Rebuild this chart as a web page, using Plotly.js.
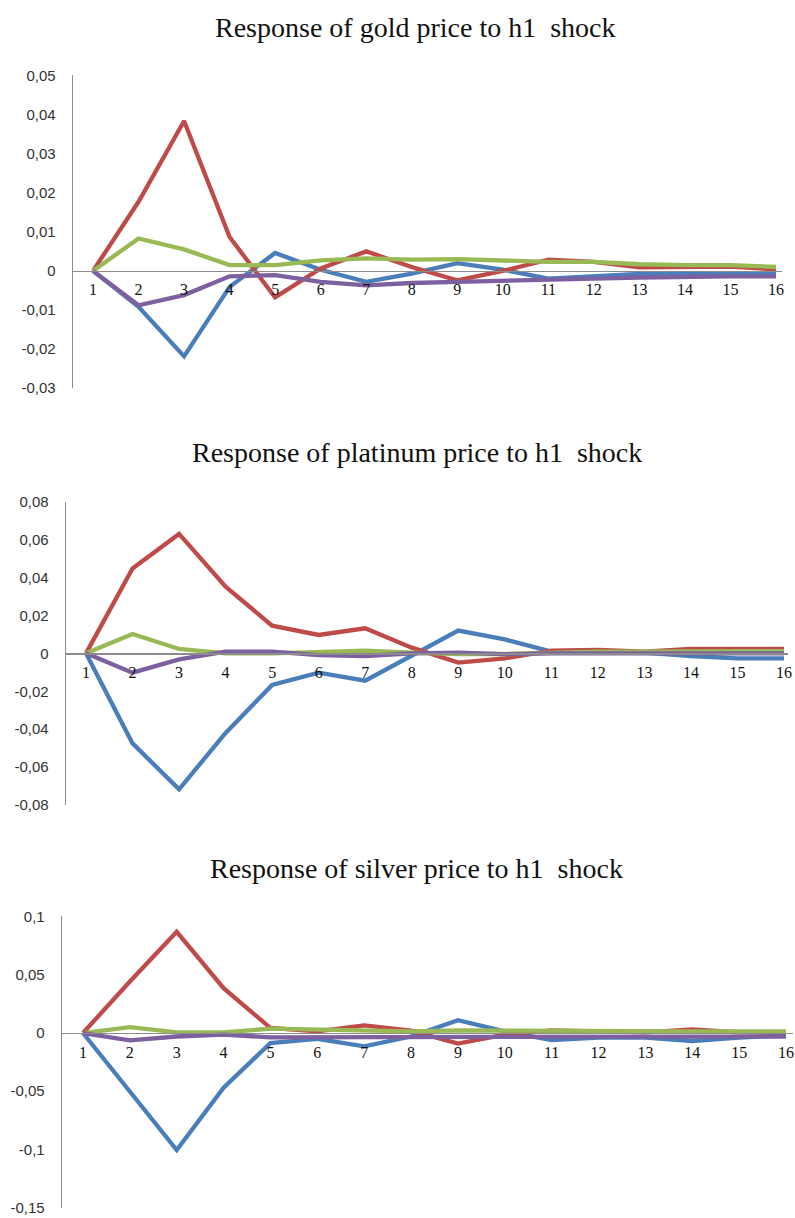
<!DOCTYPE html>
<html><head><meta charset="utf-8">
<script src="https://cdn.plot.ly/plotly-3.0.1.min.js"></script>
<style>html,body{margin:0;padding:0;background:#fff}#chart{width:795px;height:1218px}</style>
</head><body><div id="chart"></div>
<script>
const periods = [1,2,3,4,5,6,7,8,9,10,11,12,13,14,15,16];
const periodLabels = ['1','2','3','4','5','6','7','8','9','10','11','12','13','14','15','16'];

const titles = ['Response of gold price to h1  shock','Response of platinum price to h1  shock','Response of silver price to h1  shock'];

// gold
const goldBlue   = [0,-0.0092,-0.0219,-0.0041,0.0046,0.0003,-0.0028,-0.0007,0.0020,0.0003,-0.0020,-0.0015,-0.0008,-0.0007,-0.0007,-0.0007];
const goldRed    = [0,0.0177,0.0384,0.0087,-0.0068,0.0006,0.0050,0.0010,-0.0024,0.0000,0.0029,0.0023,0.0009,0.0009,0.0011,0.0004];
const goldGreen  = [0,0.0083,0.0055,0.0015,0.0015,0.0027,0.0032,0.0029,0.0030,0.0026,0.0023,0.0023,0.0017,0.0015,0.0015,0.0010];
const goldPurple = [0,-0.0088,-0.0062,-0.0014,-0.0011,-0.0028,-0.0037,-0.0031,-0.0028,-0.0026,-0.0022,-0.0020,-0.0017,-0.0015,-0.0014,-0.0014];
const goldTickVals = [0.05,0.04,0.03,0.02,0.01,0,-0.01,-0.02,-0.03];
const goldTickText = ['0,05','0,04','0,03','0,02','0,01','0','-0,01','-0,02','-0,03'];

// platinum
const platBlue   = [0,-0.0475,-0.0717,-0.0420,-0.0167,-0.0102,-0.0144,-0.0010,0.0120,0.0074,0.0009,0.0009,0.0004,-0.0014,-0.0026,-0.0026];
const platRed    = [0,0.0448,0.0630,0.0352,0.0146,0.0097,0.0132,0.0030,-0.0049,-0.0026,0.0014,0.0018,0.0009,0.0023,0.0023,0.0023];
const platGreen  = [0,0.0102,0.0023,0.0000,0.0000,0.0009,0.0014,0.0004,-0.0004,-0.0004,0.0004,0.0009,0.0009,0.0012,0.0012,0.0012];
const platPurple = [0,-0.0102,-0.0032,0.0009,0.0009,-0.0009,-0.0014,0.0000,0.0004,-0.0004,0.0000,0.0000,0.0000,0.0000,0.0000,0.0000];
const platTickVals = [0.08,0.06,0.04,0.02,0,-0.02,-0.04,-0.06,-0.08];
const platTickText = ['0,08','0,06','0,04','0,02','0','-0,02','-0,04','-0,06','-0,08'];

// silver
const silvBlue   = [0,-0.0500,-0.1006,-0.0470,-0.0086,-0.0050,-0.0114,-0.0030,0.0110,0.0014,-0.0060,-0.0040,-0.0040,-0.0070,-0.0040,-0.0020];
const silvRed    = [0,0.0443,0.0870,0.0386,0.0043,0.0014,0.0066,0.0020,-0.0091,-0.0014,0.0023,0.0014,0.0006,0.0030,0.0006,0.0006];
const silvGreen  = [0,0.0050,0.0006,0.0006,0.0037,0.0030,0.0030,0.0014,0.0023,0.0020,0.0014,0.0014,0.0014,0.0014,0.0014,0.0014];
const silvPurple = [0,-0.0063,-0.0030,-0.0014,-0.0037,-0.0037,-0.0037,-0.0030,-0.0030,-0.0030,-0.0030,-0.0030,-0.0030,-0.0030,-0.0030,-0.0030];
const silvTickVals = [0.1,0.05,0,-0.05,-0.1,-0.15];
const silvTickText = ['0,1','0,05','0','-0,05','-0,1','-0,15'];

const seriesColors = ['#4A7EBB','#BE4B48','#98B954','#7D60A0'];

const W = 795, H = 1218;
const panels = [
  {series:[goldBlue,goldRed,goldGreen,goldPurple], tv:goldTickVals, tt:goldTickText, yr:[-0.0301,0.0501],
   axL:73, axR:782, p1:93, p16:776, tx:415.5, ty:28},
  {series:[platBlue,platRed,platGreen,platPurple], tv:platTickVals, tt:platTickText, yr:[-0.0801,0.0801],
   axL:66, axR:788, p1:86, p16:784, tx:416.5, ty:452},
  {series:[silvBlue,silvRed,silvGreen,silvPurple], tv:silvTickVals, tt:silvTickText, yr:[-0.1502,0.1002],
   axL:62, axR:793, p1:83, p16:786, tx:416.5, ty:868}
];
// pixel rows of the top and bottom tick values of each panel
const yPx = [[75.7, 388], [501.7, 805], [916.7, 1207.5]];
const yEnds = [[0.05,-0.03],[0.08,-0.08],[0.1,-0.15]];

const data = [];
const layout = {
  width: W, height: H,
  margin: {l:0, r:0, t:0, b:0},
  paper_bgcolor: '#fff', plot_bgcolor: 'rgba(0,0,0,0)',
  showlegend: false,
  separators: ', ',
  annotations: []
};

panels.forEach((p, i) => {
  const k = i === 0 ? '' : String(i + 1);
  p.series.forEach((s, j) => {
    data.push({
      type: 'scatter', mode: 'lines', x: periods, y: s,
      xaxis: 'x' + k, yaxis: 'y' + k,
      line: {color: seriesColors[j], width: 4.3, shape: 'linear'},
      hoverinfo: 'skip', cliponaxis: false
    });
  });
  const sp = (p.p16 - p.p1) / 15;
  const xr = [1 - (p.p1 - p.axL) / sp, 16 + (p.axR - p.p16) / sp];
  const pxPerUnit = (yPx[i][1] - yPx[i][0]) / (yEnds[i][0] - yEnds[i][1]);
  const topPx = yPx[i][0] - (p.yr[1] - yEnds[i][0]) * pxPerUnit;
  const botPx = yPx[i][1] + (yEnds[i][1] - p.yr[0]) * pxPerUnit;
  const yd = [1 - botPx / H, 1 - topPx / H];
  const zeroPos = yd[0] + (0 - p.yr[0]) / (p.yr[1] - p.yr[0]) * (yd[1] - yd[0]);
  layout['xaxis' + k] = {
    domain: [p.axL / W, p.axR / W], range: xr, anchor: 'free', position: zeroPos,
    showgrid: false, zeroline: false, showline: true, linecolor: '#8c8c8c', linewidth: 1.3,
    tickmode: 'array', tickvals: periods, ticktext: periodLabels,
    ticks: 'outside', ticklen: 4, tickcolor: 'rgba(0,0,0,0)',
    tickfont: {family: 'Liberation Serif', size: 16, color: '#111'},
    ticklabeloverflow: 'allow',
    fixedrange: true
  };
  layout['yaxis' + k] = {
    domain: yd, range: p.yr, anchor: 'x' + k,
    showgrid: false, zeroline: false, showline: true, linecolor: '#8c8c8c', linewidth: 1.3,
    tickmode: 'array', tickvals: p.tv, ticktext: p.tt,
    ticks: 'outside', ticklen: 13, tickcolor: 'rgba(0,0,0,0)',
    tickfont: {family: 'Liberation Sans', size: 15, color: '#333'},
    ticklabeloverflow: 'allow',
    fixedrange: true
  };
  layout.annotations.push({
    text: titles[i], xref: 'paper', yref: 'paper',
    x: p.tx / W, y: 1 - p.ty / H, xanchor: 'center', yanchor: 'middle',
    showarrow: false, font: {family: 'Liberation Serif', size: 28, color: '#111'}
  });
});

Plotly.newPlot('chart', data, layout, {staticPlot: true});
</script>
</body></html>
